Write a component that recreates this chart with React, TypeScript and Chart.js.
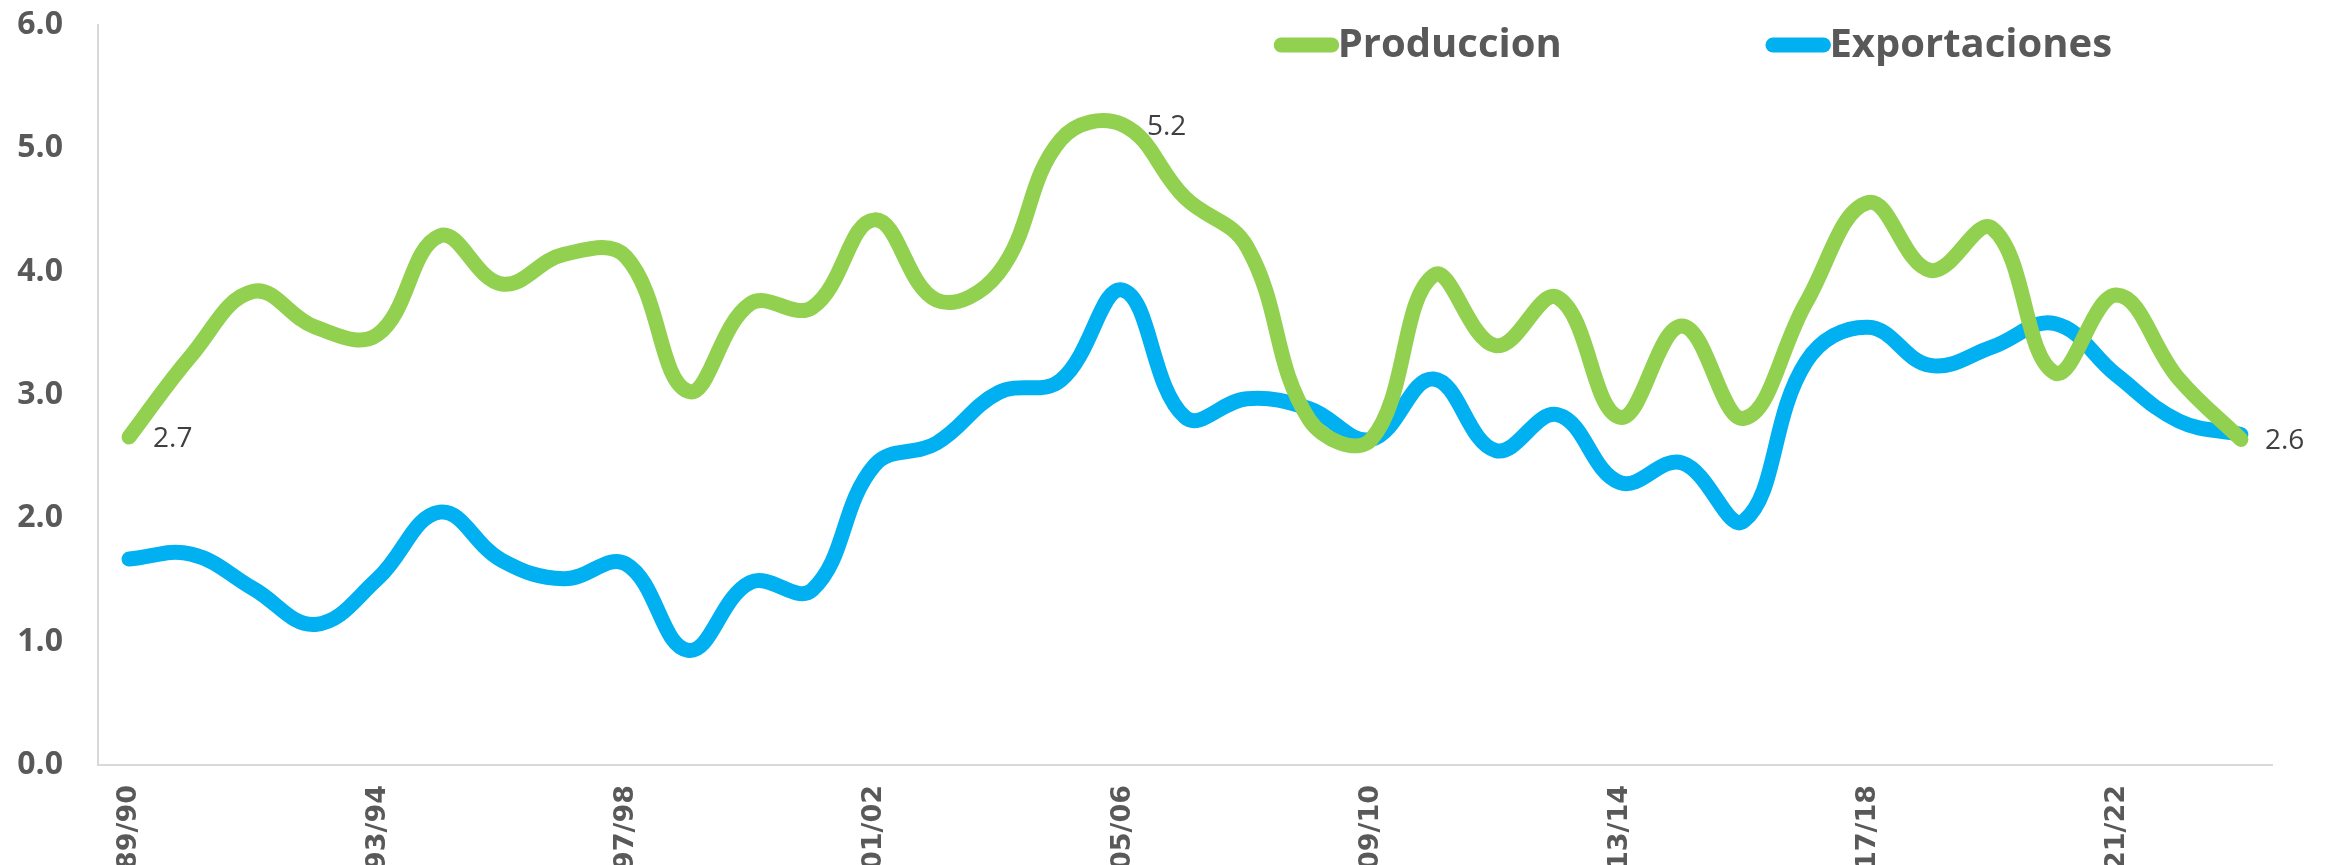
import React, { useEffect, useRef } from "react";
import { Chart, registerables } from "chart.js";

Chart.register(...registerables);

const seasons = [
  "89/90", "90/91", "91/92", "92/93", "93/94", "94/95", "95/96", "96/97", "97/98", "98/99",
  "99/00", "00/01", "01/02", "02/03", "03/04", "04/05", "05/06", "06/07", "07/08", "08/09",
  "09/10", "10/11", "11/12", "12/13", "13/14", "14/15", "15/16", "16/17", "17/18", "18/19",
  "19/20", "20/21", "21/22", "22/23", "23/24",
];

const produccion = [
  2.66, 3.32, 3.84, 3.55, 3.49, 4.29, 3.9, 4.14, 4.12, 3.03,
  3.74, 3.71, 4.42, 3.77, 3.99, 5.07, 5.19, 4.6, 4.2, 2.8,
  2.64, 3.97, 3.4, 3.79, 2.82, 3.56, 2.81, 3.75, 4.56, 4.01,
  4.35, 3.18, 3.81, 3.13, 2.64,
];

const exportaciones = [
  1.67, 1.71, 1.43, 1.14, 1.51, 2.05, 1.66, 1.51, 1.63, 0.93,
  1.48, 1.42, 2.43, 2.61, 3.02, 3.12, 3.85, 2.82, 2.97, 2.89,
  2.64, 3.13, 2.55, 2.84, 2.29, 2.45, 1.98, 3.27, 3.55, 3.24,
  3.39, 3.58, 3.16, 2.79, 2.68,
];

const yTicks = [0, 1, 2, 3, 4, 5, 6];
const seriesNames = ["Produccion", "Exportaciones"];
const seriesColors = ["#92D050", "#00B0F0"];
const labeledIdx = [0, 16, 34];

const TEXT_GREY = "#595959";

const labelPlugin = {
  id: "dataLabels",
  afterDatasetsDraw(chart: any) {
    const ctx = chart.ctx;
    const meta = chart.getDatasetMeta(0);
    ctx.save();
    ctx.font = "28px 'Open Sans'";
    ctx.fillStyle = "#404040";
    ctx.textAlign = "left";
    ctx.textBaseline = "middle";
    labeledIdx.forEach((i) => {
      const el = meta.data[i];
      if (!el) return;
      ctx.fillText(produccion[i].toFixed(1), el.x + 24, el.y + 2);
    });
    ctx.restore();
  },
};

const legendPlugin = {
  id: "customLegend",
  afterDraw(chart: any) {
    const ctx = chart.ctx;
    const ca = chart.chartArea;
    const y = ca.top + 20;
    const starts = [ca.left + ca.width * 0.5408, ca.left + ca.width * 0.767];
    ctx.save();
    ctx.font = "bold 40px 'Open Sans'";
    ctx.textBaseline = "middle";
    ctx.textAlign = "left";
    seriesNames.forEach((name, k) => {
      const x0 = starts[k];
      ctx.strokeStyle = seriesColors[k];
      ctx.lineWidth = 15;
      ctx.lineCap = "round";
      ctx.beginPath();
      ctx.moveTo(x0 + 7.5, y);
      ctx.lineTo(x0 + 58, y);
      ctx.stroke();
      ctx.fillStyle = TEXT_GREY;
      ctx.fillText(name, x0 + 64, y + 1);
    });
    ctx.restore();
  },
};

export default function App() {
  const ref = useRef<HTMLCanvasElement | null>(null);

  useEffect(() => {
    if (!ref.current) return;
    const chart = new Chart(ref.current, {
      type: "line",
      data: {
        labels: seasons,
        datasets: [
          {
            label: seriesNames[0],
            data: produccion,
            borderColor: seriesColors[0],
            backgroundColor: seriesColors[0],
            borderWidth: 15,
            pointRadius: 0,
            tension: 0.4,
            borderCapStyle: "round",
            borderJoinStyle: "round",
          },
          {
            label: seriesNames[1],
            data: exportaciones,
            borderColor: seriesColors[1],
            backgroundColor: seriesColors[1],
            borderWidth: 15,
            pointRadius: 0,
            tension: 0.4,
            borderCapStyle: "round",
            borderJoinStyle: "round",
          },
        ],
      },
      options: {
        responsive: false,
        animation: false,
        devicePixelRatio: 1,
        layout: { padding: { top: 25, right: 56, left: 0, bottom: 0 } },
        plugins: {
          legend: { display: false },
          tooltip: { enabled: false },
        },
        scales: {
          x: {
            type: "category",
            offset: true,
            grid: { display: false, drawTicks: false },
            border: { display: true, color: "#D9D9D9", width: 2 },
            afterFit: (scale: any) => {
              scale.height = 100;
              scale.paddingLeft = 0;
              scale.paddingRight = 0;
              scale.paddingTop = 0;
              scale.paddingBottom = 0;
            },
            ticks: {
              autoSkip: false,
              maxRotation: 90,
              minRotation: 90,
              padding: 20,
              color: TEXT_GREY,
              font: { family: "'DejaVu Sans'", size: 27, weight: "bold" },
              callback: (_v: any, i: number) => (i % 4 === 0 ? seasons[i] : ""),
            },
          },
          y: {
            min: yTicks[0],
            max: yTicks[yTicks.length - 1],
            grid: { display: false, drawTicks: false },
            border: { display: true, color: "#D9D9D9", width: 2 },
            afterFit: (scale: any) => {
              scale.width = 98;
              scale.paddingTop = 0;
              scale.paddingBottom = 0;
              scale.paddingLeft = 0;
              scale.paddingRight = 0;
            },
            afterBuildTicks: (scale: any) => {
              scale.ticks = yTicks.map((v) => ({ value: v }));
            },
            ticks: {
              padding: 35,
              color: TEXT_GREY,
              font: { family: "'Open Sans'", size: 32, weight: "bold" },
              callback: (v: any) => Number(v).toFixed(1),
            },
          },
        },
      },
      plugins: [labelPlugin, legendPlugin],
    });
    return () => chart.destroy();
  }, []);

  return (
    <div style={{ position: "fixed", left: 0, top: 0, width: 2328, height: 865, overflow: "hidden", background: "#fff" }}>
      <canvas ref={ref} width={2328} height={865} style={{ display: "block" }} />
    </div>
  );
}
